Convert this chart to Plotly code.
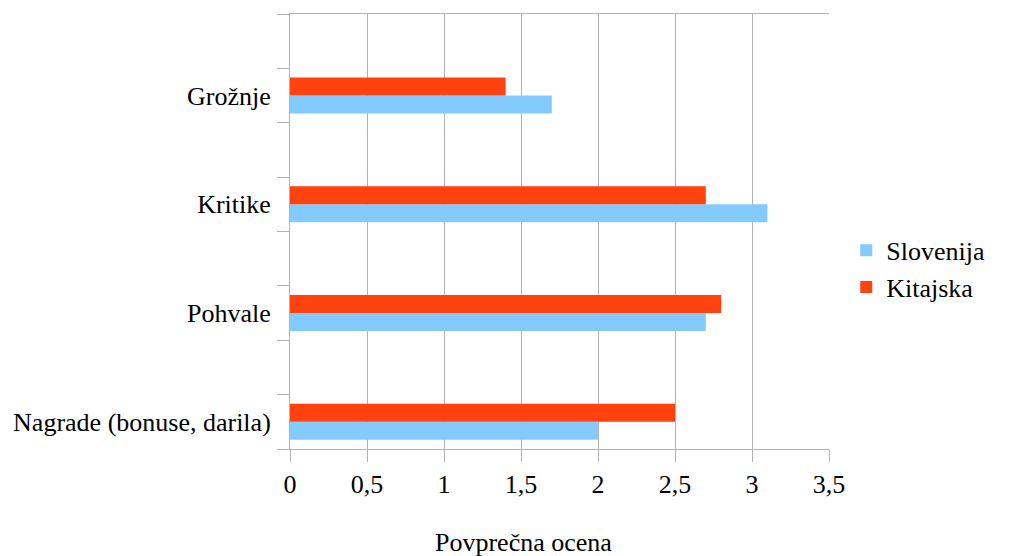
import plotly.graph_objects as go

categories = ["Nagrade (bonuse, darila)", "Pohvale", "Kritike", "Grožnje"]
slovenija = [2.0, 2.7, 3.1, 1.7]
kitajska = [2.5, 2.8, 2.7, 1.4]
x_ticks = [0, 0.5, 1, 1.5, 2, 2.5, 3, 3.5]

FONT = "Liberation Serif, Times New Roman, serif"
FS = 26
GRID = "#b3b3b3"

fig = go.Figure()
fig.add_trace(go.Bar(y=categories, x=slovenija, orientation="h", name="Slovenija",
                     marker=dict(color="#83caff", line=dict(width=0))))
fig.add_trace(go.Bar(y=categories, x=kitajska, orientation="h", name="Kitajska",
                     marker=dict(color="#ff420e", line=dict(width=0))))
# helper (empty) trace so the tick-mark overlay axis is drawn
fig.add_trace(go.Scatter(x=[None], y=[None], yaxis="y2", showlegend=False, hoverinfo="skip"))

fig.update_layout(
    width=1010, height=548,
    margin=dict(l=282, r=189, t=6, b=107),
    paper_bgcolor="white", plot_bgcolor="white",
    barmode="group", bargap=0.67, bargroupgap=0,
    separators=",.",
    font=dict(family=FONT, size=FS, color="black"),
    xaxis=dict(range=[0, 3.5], tickvals=x_ticks, showgrid=True, gridcolor=GRID, gridwidth=1,
               showline=True, linecolor=GRID, linewidth=1, mirror=True,
               ticks="outside", ticklen=12, tickcolor=GRID, tickwidth=1,
               ticklabelstandoff=0, zeroline=False,
               tickfont=dict(family=FONT, size=FS, color="black")),
    yaxis=dict(type="category", categoryorder="array", categoryarray=categories,
               range=[-0.25, 3.75], showgrid=False, zeroline=False,
               showline=True, linecolor=GRID, linewidth=1,
               ticks="outside", ticklen=12, tickcolor="rgba(0,0,0,0)",
               ticklabelstandoff=1,
               tickfont=dict(family=FONT, size=FS, color="black")),
    yaxis2=dict(overlaying="y", side="left", range=[-0.25, 3.75], tick0=0.25, dtick=0.5,
                tickmode="linear", ticks="outside", ticklen=12, tickcolor=GRID,
                showticklabels=False, showgrid=False, zeroline=False, showline=False),
    legend=dict(x=1.032, y=0.414, xanchor="left", yanchor="middle",
                font=dict(family=FONT, size=FS, color="black"),
                traceorder="normal", itemwidth=30, tracegroupgap=0),
    showlegend=True,
    annotations=[dict(text="Povprečna ocena", xref="paper", yref="paper",
                      x=0.434, y=-0.216, xanchor="center", yanchor="middle",
                      showarrow=False, font=dict(family=FONT, size=FS, color="black"))],
)

fig.write_html("out.html")
